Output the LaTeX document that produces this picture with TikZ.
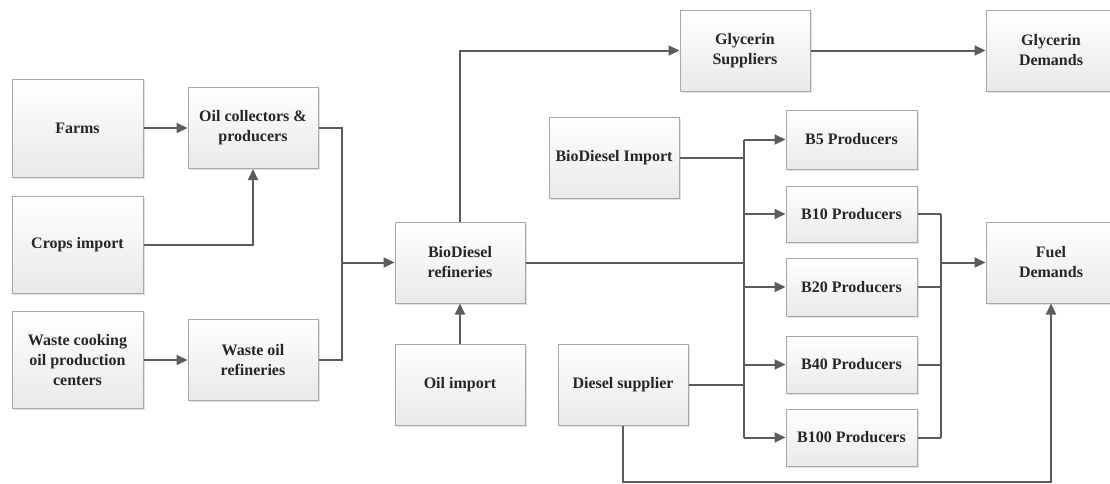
\documentclass[tikz,border=0pt]{standalone}
\usepackage{fontspec}
\setmainfont{Liberation Serif}
\usetikzlibrary{arrows.meta,shadows}
\definecolor{linegray}{RGB}{92,92,92}
\definecolor{bordergray}{RGB}{168,168,168}
\definecolor{fillbot}{RGB}{233,233,233}
\tikzset{
  box/.style={draw=bordergray, line width=1pt, top color=white, bottom color=fillbot,
    drop shadow={shadow xshift=1.5pt, shadow yshift=-1.5pt, fill=black, opacity=0.12},
    align=center, inner sep=0pt, font=\fontsize{16}{20}\selectfont\bfseries, text=black!85},
  conn/.style={draw=linegray, line width=2pt},
  arr/.style={conn, -{Triangle[length=11pt,width=10pt]}}
}
\begin{document}
\begin{tikzpicture}[x=1pt,y=-1pt]
\useasboundingbox (0,0) rectangle (1110,483);
% left column
\node[box, minimum width=131pt, minimum height=98pt] (farms) at (77.5,128) {Farms};
\node[box, minimum width=131pt, minimum height=97pt] (crops) at (77.5,244.5) {Crops import};
\node[box, minimum width=131pt, minimum height=97pt] (waste) at (77.5,360) {Waste cooking\\oil production\\centers};
% second column
\node[box, minimum width=130pt, minimum height=81pt] (oilcol) at (253,128) {Oil collectors \&\\producers};
\node[box, minimum width=130pt, minimum height=81pt] (wasteref) at (253,360) {Waste oil\\refineries};
% refineries
\node[box, minimum width=130pt, minimum height=81pt] (bioref) at (460,262.5) {BioDiesel\\refineries};
\node[box, minimum width=130pt, minimum height=81pt] (oilimp) at (460,384.5) {Oil import};
% glycerin
\node[box, minimum width=130pt, minimum height=81pt] (glysup) at (745,50.5) {Glycerin\\Suppliers};
\node[box, minimum width=130pt, minimum height=81pt] (glydem) at (1051,50.5) {Glycerin\\Demands};
% imports / supplier
\node[box, minimum width=130pt, minimum height=81pt] (bioimp) at (614,157.5) {BioDiesel Import};
\node[box, minimum width=130pt, minimum height=81pt] (dieselsup) at (623,384.5) {Diesel supplier};
% producers
\node[box, minimum width=131pt, minimum height=59pt] (b5) at (851.5,139.5) {B5 Producers};
\node[box, minimum width=131pt, minimum height=56pt] (b10) at (851.5,214) {B10 Producers};
\node[box, minimum width=131pt, minimum height=58pt] (b20) at (851.5,287) {B20 Producers};
\node[box, minimum width=131pt, minimum height=57pt] (b40) at (851.5,364.5) {B40 Producers};
\node[box, minimum width=131pt, minimum height=57pt] (b100) at (851.5,437.5) {B100 Producers};
% demand
\node[box, minimum width=130pt, minimum height=81pt] (fuel) at (1051,262.5) {Fuel\\Demands};

% junction coordinates
\coordinate (j1) at (342,262.5);
\coordinate (bus) at (744,0);
\coordinate (col) at (941,0);
\coordinate (bot) at (0,481.5);

% connectors, left part
\draw[arr] (farms) -- (oilcol);
\draw[arr] (crops.east) -| (oilcol.south);
\draw[arr] (waste) -- (wasteref);
\draw[conn] (oilcol.east) -| (j1) |- (wasteref.east);
\draw[arr] (j1) -- (bioref.west);
\draw[arr] (oilimp) -- (bioref);
% glycerin
\draw[arr] (bioref.north) |- (glysup.west);
\draw[arr] (glysup) -- (glydem);
% distribution bus
\draw[conn] (bioimp.east) -- (bioimp.east -| bus);
\draw[conn] (bioref.east) -- (bioref.east -| bus);
\draw[conn] (dieselsup.east) -- (dieselsup.east -| bus);
\draw[conn] (b5.west -| bus) -- (b100.west -| bus);
\draw[arr] (b5.west -| bus) -- (b5.west);
\draw[arr] (b10.west -| bus) -- (b10.west);
\draw[arr] (b20.west -| bus) -- (b20.west);
\draw[arr] (b40.west -| bus) -- (b40.west);
\draw[arr] (b100.west -| bus) -- (b100.west);
% collector to fuel demands
\draw[conn] (b10.east) -- (b10.east -| col);
\draw[conn] (b20.east) -- (b20.east -| col);
\draw[conn] (b40.east) -- (b40.east -| col);
\draw[conn] (b100.east) -- (b100.east -| col);
\draw[conn] (b10.east -| col) -- (b100.east -| col);
\draw[arr] (fuel.west -| col) -- (fuel.west);
% diesel supplier to fuel demands
\draw[arr] (dieselsup.south) -- (dieselsup.south |- bot) -| (fuel.south);
\end{tikzpicture}
\end{document}
